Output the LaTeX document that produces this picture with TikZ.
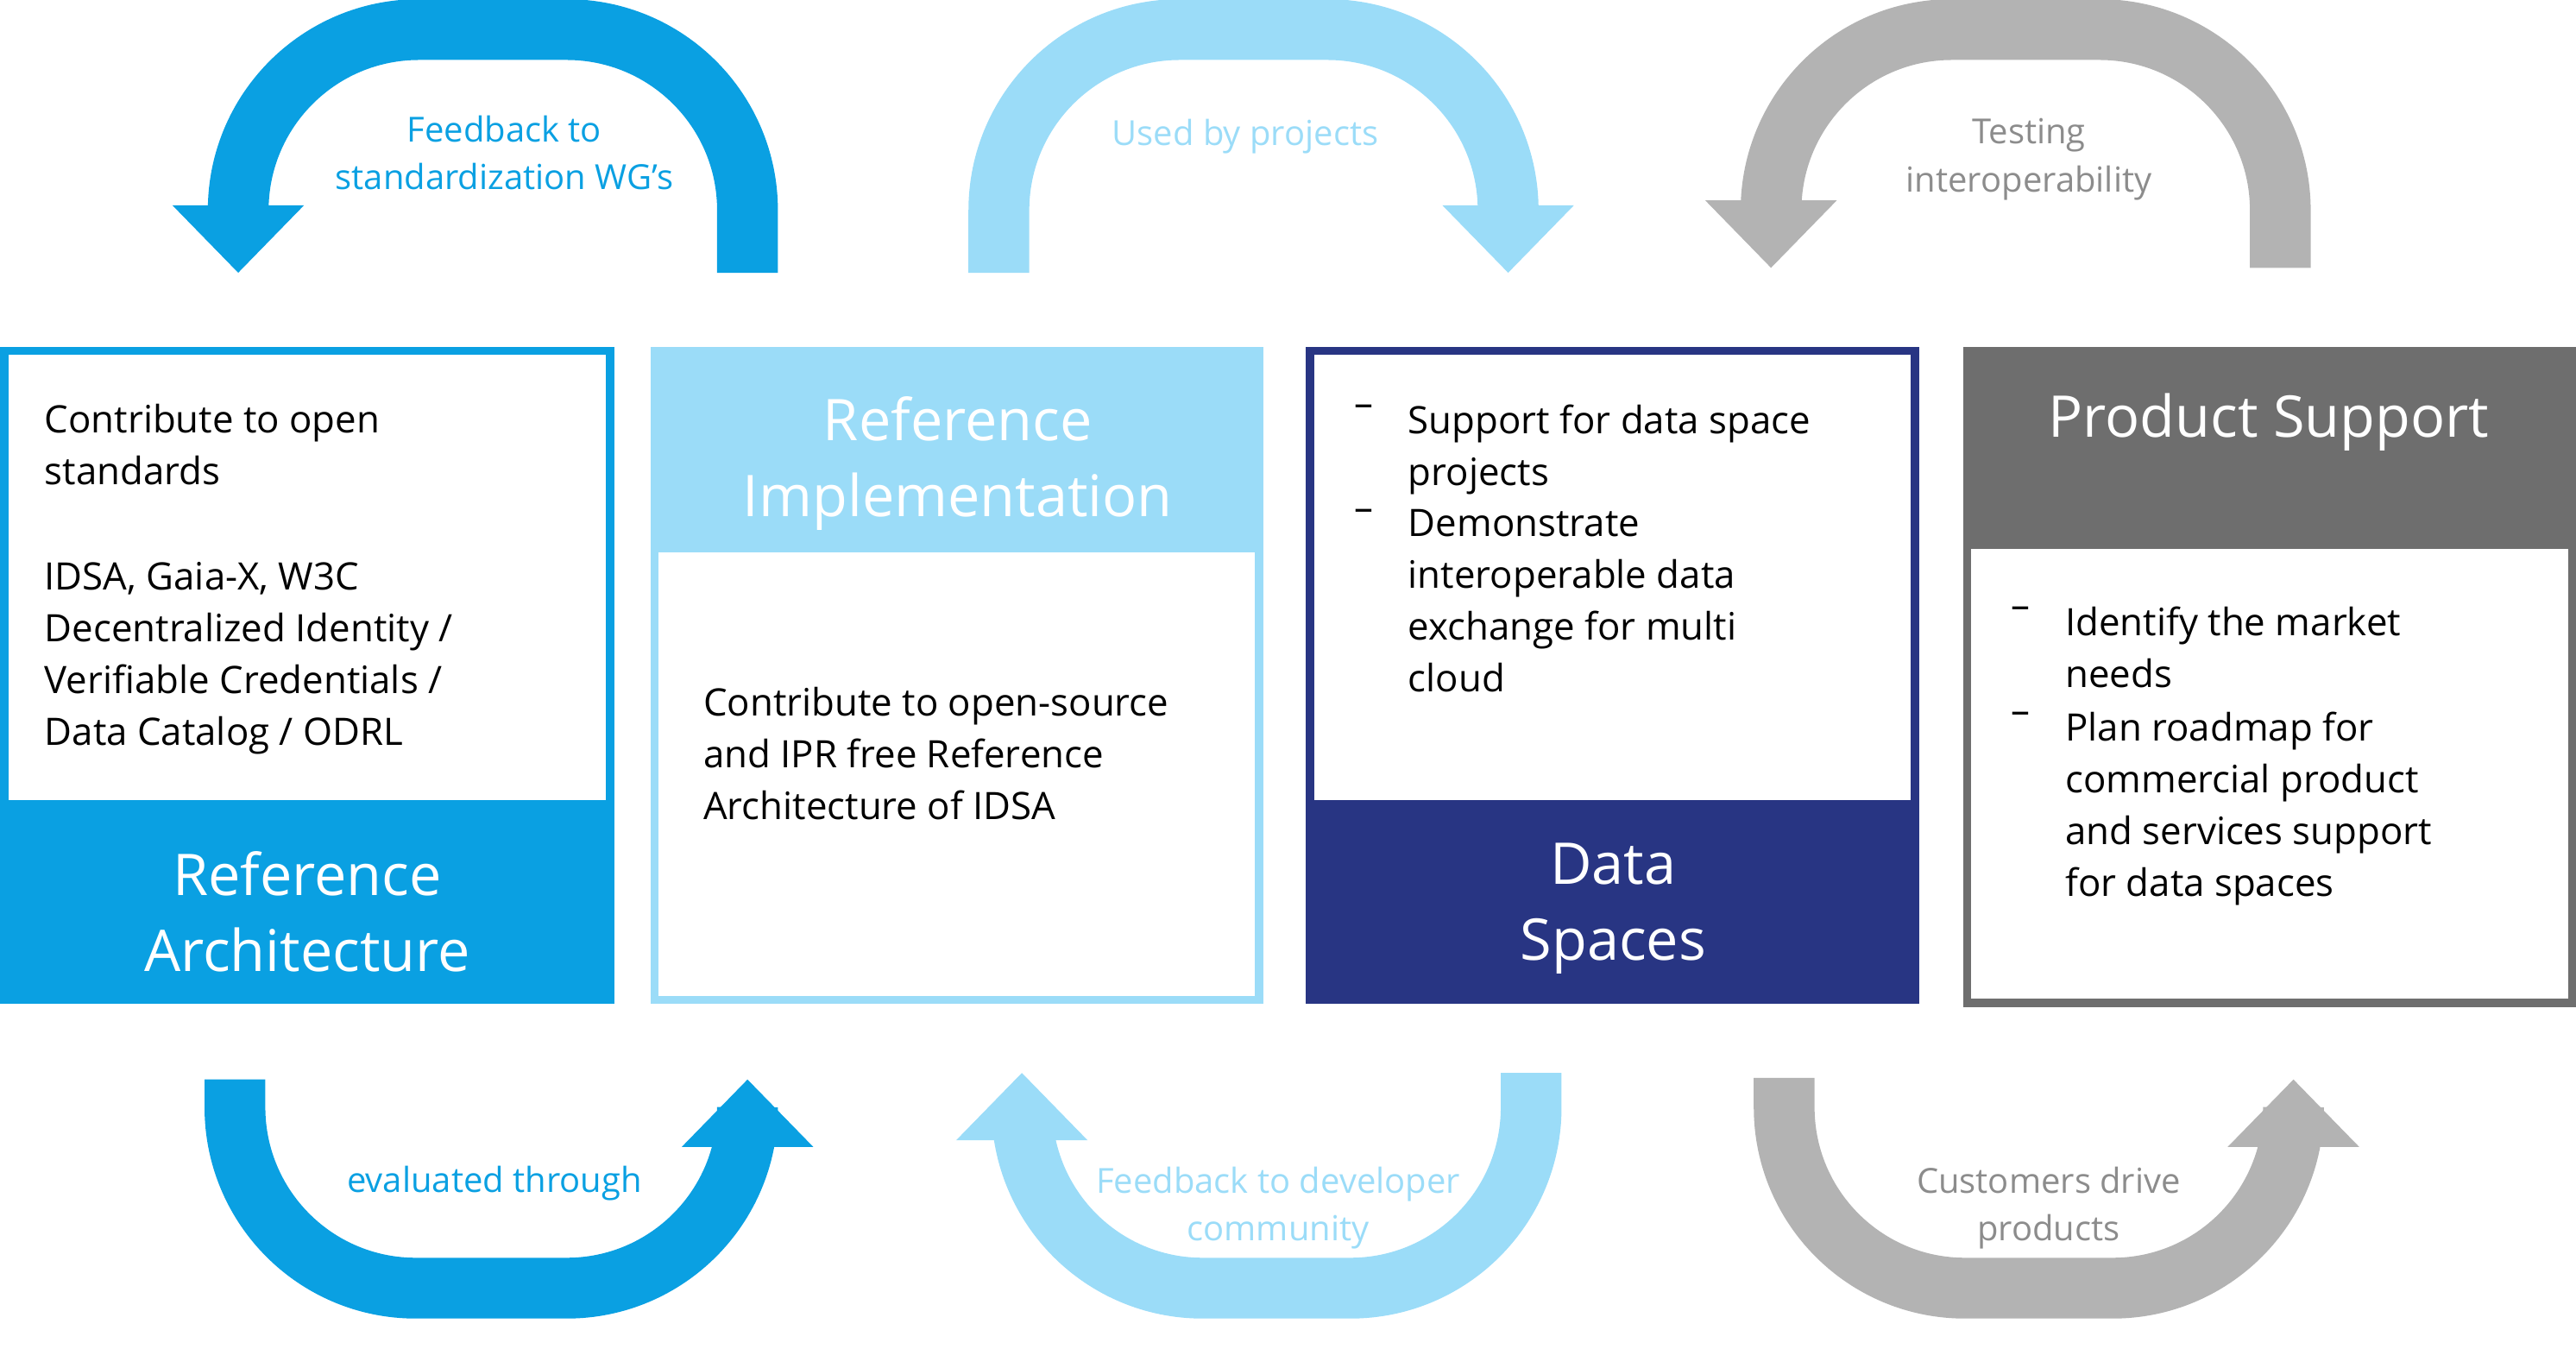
\documentclass[tikz,border=0pt]{standalone}
\usepackage{fontspec}
\setmainfont{Open Sans}
\definecolor{idsblue}{HTML}{0AA0E2}
\definecolor{idslight}{HTML}{9BDCF8}
\definecolor{idsnavy}{HTML}{283583}
\definecolor{idsgray}{HTML}{6E6E6E}
\definecolor{arrgray}{HTML}{B3B3B3}
\definecolor{labgray}{HTML}{8C8C8C}
\tikzset{
  band/.style={line width=37pt, rounded corners=110pt},
  body/.style={inner sep=0pt, anchor=north west, align=left, font=\fontsize{23}{31.5}\selectfont},
  head/.style={text=white, align=center, font=\fontsize{35}{46}\selectfont},
  lab/.style={align=center, font=\fontsize{21}{29}\selectfont},
}
\newcommand{\uphead}[3]{\fill[#1] (#2-40,#3) -- (#2+40,#3) -- (#2,#3-41) -- cycle;}
\newcommand{\downhead}[3]{\fill[#1] (#2-40,#3) -- (#2+40,#3) -- (#2,#3+41) -- cycle;}
\begin{document}
\begin{tikzpicture}[x=1pt, y=-1pt]
  \useasboundingbox (0,0) rectangle (1568,821);
  % --- boxes ---
  \fill[idsblue] (0,487) rectangle (374,611);
  \draw[idsblue, line width=5pt] (2.5,213.5) rectangle (371.5,608.5);
  \fill[idslight] (396,211) rectangle (769,336);
  \draw[idslight, line width=5pt] (398.5,213.5) rectangle (766.5,608.5);
  \fill[idsnavy] (795,487) rectangle (1168,611);
  \draw[idsnavy, line width=5pt] (797.5,213.5) rectangle (1165.5,608.5);
  \fill[idsgray] (1195,211) rectangle (1568,334);
  \draw[idsgray, line width=5pt] (1197.5,213.5) rectangle (1565.5,610.5);
  % --- headings ---
  \node[head] (hra) at (187,555) {Reference\\Architecture};
  \node[head] (hri) at (583,282) {Reference\\Implementation};
  \node[head] (hds) at (982,553) {Data\\Spaces};
  \node[head] (hps) at (1381,257) {Product Support};
  % --- body texts ---
  \node[body] (tra1) at (27,246) {Contribute to open\\standards};
  \node[body] (tra2) at (27,342) {IDSA, Gaia-X, W3C\\Decentralized Identity /\\Verifiable Credentials /\\Data Catalog / ODRL};
  \node[body] (tri) at (428,418) {Contribute to open-source\\and IPR free Reference\\Architecture of IDSA};
  \node[body] (bds1) at (824,246) {--};
  \node[body] (tds1) at (857,246) {Support for data space\\projects};
  \node[body] (bds2) at (824,310) {--};
  \node[body] (tds2) at (857,310) {Demonstrate\\interoperable data\\exchange for multi\\cloud};
  \node[body] (bps1) at (1224,369) {--};
  \node[body] (tps1) at (1257,369) {Identify the market\\needs};
  \node[body] (bps2) at (1224,433) {--};
  \node[body] (tps2) at (1257,433) {Plan roadmap for\\commercial product\\and services support\\for data spaces};
  % --- top arrows ---
  \draw[band, idsblue] (455,166) -- (455,18) -- (145,18) -- (145,126);
  \downhead{idsblue}{145}{125}
  \draw[band, idslight] (608,166) -- (608,18) -- (918,18) -- (918,126);
  \downhead{idslight}{918}{125}
  \draw[band, arrgray] (1388,163) -- (1388,18) -- (1078,18) -- (1078,123);
  \downhead{arrgray}{1078}{122}
  % --- bottom arrows ---
  \draw[band, idsblue] (143,657) -- (143,784) -- (455,784) -- (455,697);
  \uphead{idsblue}{455}{698}
  \draw[band, idslight] (932,653) -- (932,784) -- (622,784) -- (622,693);
  \uphead{idslight}{622}{694}
  \draw[band, arrgray] (1086,656) -- (1086,784) -- (1396,784) -- (1396,697);
  \uphead{arrgray}{1396}{698}
  % --- arrow labels ---
  \node[lab, text=idsblue] (lfb) at (307,93) {Feedback to\\standardization WG's};
  \node[lab, text=idslight] (lup) at (758,83) {Used by projects};
  \node[lab, text=labgray] (lti) at (1235,97) {Testing\\interoperability};
  \node[lab, text=idsblue] (lev) at (301,720) {evaluated through};
  \node[lab, text=idslight] (ldc) at (778,735) {Feedback to developer\\community};
  \node[lab, text=labgray] (lcd) at (1247,735) {Customers drive\\products};
\end{tikzpicture}
\end{document}
